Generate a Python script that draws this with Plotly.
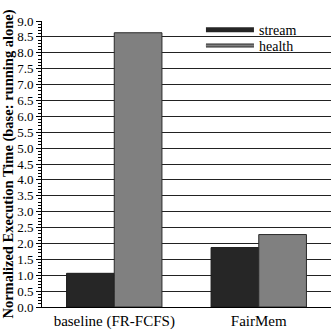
import plotly.graph_objects as go

categories = ["baseline (FR-FCFS)", "FairMem"]
stream = [1.06, 1.87]
health = [8.63, 2.28]
y_ticks = [i * 0.5 for i in range(19)]
y_labels = [f"{v:.1f}" for v in y_ticks]

FONT = "Liberation Serif, Times New Roman, serif"
STREAM_C = "#262626"
HEALTH_C = "#808080"

fig = go.Figure()
fig.add_trace(go.Bar(x=categories, y=stream, name="stream", marker=dict(color=STREAM_C, line=dict(color="#1a1a1a", width=1)), showlegend=False))
fig.add_trace(go.Bar(x=categories, y=health, name="health", marker=dict(color=HEALTH_C, line=dict(color="#2a2a2a", width=1)), showlegend=False))
# legend entries drawn as thick strokes, like the reference
fig.add_trace(go.Scatter(x=[None], y=[None], mode="lines", name="stream", line=dict(color=STREAM_C, width=5), legend="legend"))
fig.add_trace(go.Scatter(x=[None], y=[None], mode="lines", name="health", line=dict(color="#2a2a2a", width=4), legend="legend3"))
fig.add_trace(go.Scatter(x=[None], y=[None], mode="lines", name="health", line=dict(color=HEALTH_C, width=2), legend="legend2"))

leg_common = dict(xanchor="left", yanchor="top", bgcolor="rgba(0,0,0,0)", itemwidth=48,
                  font=dict(family=FONT, size=14, color="black"))
fig.update_layout(
    width=331, height=330,
    margin=dict(l=42, r=0, t=21, b=21),
    paper_bgcolor="white", plot_bgcolor="white",
    barmode="group", bargap=0.34, bargroupgap=0,
    font=dict(family=FONT, size=13, color="black"),
    legend=dict(x=0.55, y=1.024, **leg_common),
    legend3=dict(x=0.55, y=0.969, **{**leg_common, "font": dict(family=FONT, size=14, color="rgba(0,0,0,0)")}),
    legend2=dict(x=0.55, y=0.969, **leg_common),
    xaxis=dict(showgrid=False, showline=True, linecolor="black", linewidth=1,
               tickfont=dict(family=FONT, size=15), ticks="", range=[-0.5, 1.5]),
    yaxis=dict(range=[0, 9.0], tickvals=y_ticks, ticktext=y_labels,
               showgrid=True, gridcolor="#222", gridwidth=1,
               showline=True, linecolor="black", linewidth=1,
               ticks="outside", ticklen=5, tickcolor="black",
               minor=dict(dtick=0.1, ticks="outside", ticklen=3, tickcolor="black", showgrid=False),
               tickfont=dict(family=FONT, size=13),
               title=dict(text="<b>Normalized Execution Time (base: running alone)</b>",
                          font=dict(family=FONT, size=14.5), standoff=4),
               zeroline=False),
)
fig.write_html("out.html")
